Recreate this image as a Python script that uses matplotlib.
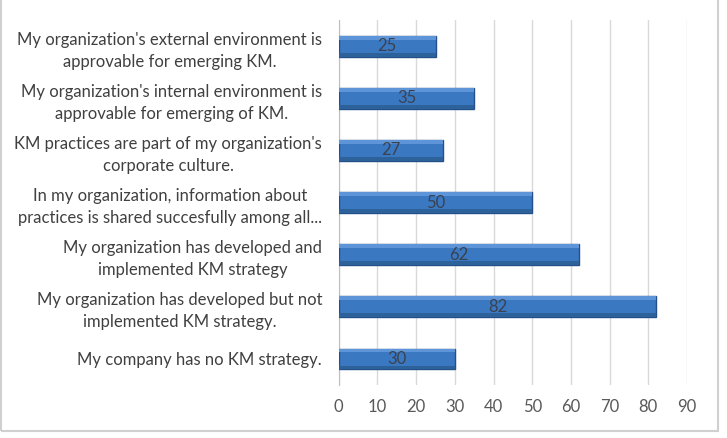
import matplotlib
matplotlib.use("Agg")
import matplotlib.pyplot as plt
from matplotlib.patches import Rectangle

categories = [
    "My organization's external environment is\napprovable for emerging KM.",
    "My organization's internal environment is\napprovable for emerging of KM.",
    "KM practices are part of my organization's\ncorporate culture.",
    "In my organization, information about\npractices is shared succesfully among all...",
    "My organization has developed and\nimplemented KM strategy",
    "My organization has developed but not\nimplemented KM strategy.",
    "My company has no KM strategy.",
]
values = [25, 35, 27, 50, 62, 82, 30]
xticks = [0, 10, 20, 30, 40, 50, 60, 70, 80, 90]

plt.rcParams['font.family'] = ['Lato', 'DejaVu Sans']

fig = plt.figure(figsize=(7.27, 4.38), dpi=100)
ax = fig.add_axes([0.466, 0.121, 0.479, 0.833])

y = list(range(len(categories)))
bars = ax.barh(y, values, height=0.4, color='#3A78C2', edgecolor='#24508A', linewidth=1.0, zorder=3)
# bevel shading: light top strip, darker bottom strip
for b in bars:
    x0, y0 = b.get_x(), b.get_y()
    w, h = b.get_width(), b.get_height()
    ax.add_patch(Rectangle((x0, y0), w, h * 0.18, facecolor='#5E95D8', edgecolor='none', zorder=4))
    ax.add_patch(Rectangle((x0, y0 + h * 0.82), w, h * 0.18, facecolor='#2D6199', edgecolor='none', zorder=4))

for yi, v in zip(y, values):
    ax.text(v / 2, yi, str(v), ha='center', va='center', fontsize=12, color='#3A4250', zorder=5)

ax.set_xlim(0, 90)
ax.set_ylim(len(categories) - 0.5, -0.5)
ax.set_xticks(xticks)
ax.set_xticklabels([str(t) for t in xticks], fontsize=12, color='#595959')
ax.set_yticks(y)
ax.set_yticklabels(categories, fontsize=12, color='#404040', multialignment='center', linespacing=1.45)
ax.tick_params(axis='both', length=0)
ax.tick_params(axis='y', pad=12)
ax.tick_params(axis='x', pad=10)
ax.grid(axis='x', color='#D9D9D9', linewidth=1.0, zorder=0)
for s in ['top', 'right', 'bottom']:
    ax.spines[s].set_visible(False)
ax.spines['left'].set_color('#BFBFBF')

# figure border (top edge cut off in reference)
border = Rectangle((0.002, 0.015), 0.986, 1.2, transform=fig.transFigure, fill=False,
                   edgecolor='#D0D0D0', linewidth=1.5)
fig.patches.append(border)

fig.savefig('out.png', dpi=100)
